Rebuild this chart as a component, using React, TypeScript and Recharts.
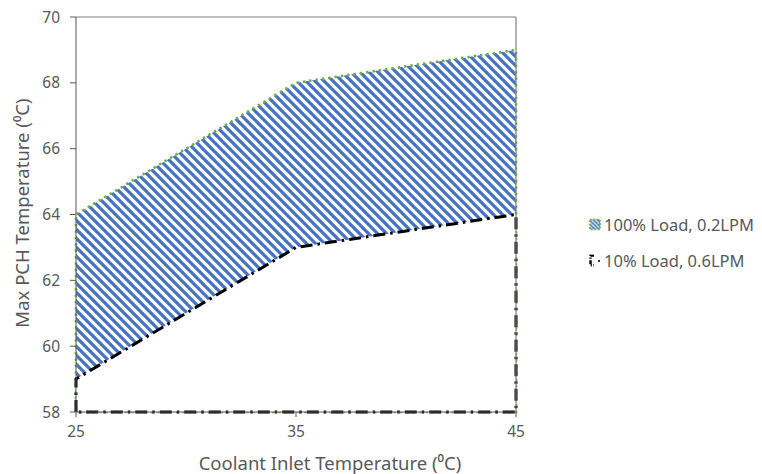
import React from 'react'
import {
  ComposedChart,
  Area,
  XAxis,
  YAxis,
  ReferenceLine,
} from 'recharts'

const inletTemps = [25, 35, 45]
const fullLoadMax = [64, 68, 69]
const lowLoadMax = [59, 63, 64]
const yTicks = [58, 60, 62, 64, 66, 68, 70]
const seriesNames = ['100% Load, 0.2LPM', '10% Load, 0.6LPM']

const Y_MIN = 58
const Y_MAX = 70
const FONT = '"Noto Sans", "Open Sans", sans-serif'
const TEXT = '#595959'
const BLUE = '#4472C4'
const GREEN = '#70AD47'

// closed outline: up the left edge, across the top, down the right edge, back along the floor
function outline(values: number[]) {
  const first = inletTemps[0]
  const last = inletTemps[inletTemps.length - 1]
  return [
    { x: first, y: Y_MIN },
    ...inletTemps.map((x, i) => ({ x, y: values[i] })),
    { x: last, y: Y_MIN },
    { x: first, y: Y_MIN },
  ]
}

const fullLoadData = outline(fullLoadMax)
const lowLoadData = outline(lowLoadMax)

function LegendIcon({ kind }: { kind: number }) {
  if (kind === 0) {
    return (
      <svg width={13} height={12} style={{ marginRight: 3 }}>
        <defs>
          <pattern id="legendStripes" width="4" height="4" patternUnits="userSpaceOnUse">
            <path d="M-1,-1 L5,5 M-1,3 L1,5 M3,-1 L5,1" stroke={BLUE} strokeWidth={1.6} />
          </pattern>
        </defs>
        <rect x={2} y={1} width={10} height={10} fill="url(#legendStripes)" stroke={GREEN} strokeWidth={1.8} strokeDasharray="1.8 1.6" />
      </svg>
    )
  }
  return (
    <svg width={13} height={12} style={{ marginRight: 3 }}>
      <path d="M6,1 L2.5,1 L2.5,11 L6,11" fill="none" stroke="#000" strokeWidth={2.4} strokeDasharray="4 1.5 1.2 1.5" />
      <circle cx={11} cy={6.5} r={1.1} fill="#000" />
    </svg>
  )
}

export default function App() {
  return (
    <div style={{ position: 'absolute', left: 0, top: 0, width: 762, height: 474, background: '#fff', fontFamily: FONT }}>
      <ComposedChart
        width={762}
        height={474}
        margin={{ top: 17, right: 246, bottom: 0, left: 0 }}
      >
        <defs>
          <pattern id="stripes" width="9" height="9" patternUnits="userSpaceOnUse">
            <rect width="9" height="9" fill="#fff" />
            <path d="M-2,-2 L11,11 M-2,7 L2,11 M7,-2 L11,2" stroke={BLUE} strokeWidth={3.2} />
          </pattern>
        </defs>
        <XAxis
          type="number"
          dataKey="x"
          domain={[25, 45]}
          ticks={inletTemps}
          height={62}
          tickSize={5}
          tickMargin={9}
          stroke="#595959"
          tick={{ fill: TEXT, fontSize: 15.5, fontFamily: FONT }}
          allowDuplicatedCategory
        />
        <YAxis
          type="number"
          domain={[Y_MIN, Y_MAX]}
          ticks={yTicks}
          width={76}
          tickSize={6}
          tickMargin={10}
          stroke="#595959"
          tick={{ fill: TEXT, fontSize: 15.5, fontFamily: FONT }}
        />
        <ReferenceLine y={Y_MAX} stroke="#7f7f7f" strokeWidth={1.2} />
        <ReferenceLine x={45} stroke="#7f7f7f" strokeWidth={1.2} />
        <Area
          data={fullLoadData}
          dataKey="y"
          type="linear"
          fill="url(#stripes)"
          fillOpacity={1}
          stroke={GREEN}
          strokeWidth={2.6}
          strokeDasharray="2.4 4"
          isAnimationActive={false}
          dot={false}
          activeDot={false}
        />
        <Area
          data={lowLoadData}
          dataKey="y"
          type="linear"
          fill="#fff"
          fillOpacity={1}
          stroke="#000"
          strokeWidth={3}
          strokeDasharray="12 5 2.5 5"
          isAnimationActive={false}
          dot={false}
          activeDot={false}
        />
      </ComposedChart>

      <div
        style={{
          position: 'absolute',
          left: 21,
          top: 213,
          transform: 'translate(-50%, -50%) rotate(-90deg)',
          whiteSpace: 'nowrap',
          color: TEXT,
          fontSize: 18.5,
        }}
      >
        Max PCH Temperature (⁰C)
      </div>
      <div
        style={{
          position: 'absolute',
          left: 330,
          top: 462,
          transform: 'translate(-50%, -50%)',
          whiteSpace: 'nowrap',
          color: TEXT,
          fontSize: 18.5,
        }}
      >
        Coolant Inlet Temperature (⁰C)
      </div>

      {seriesNames.map((name, i) => (
        <div
          key={name}
          style={{
            position: 'absolute',
            left: 588,
            top: 224 + i * 36,
            transform: 'translateY(-50%)',
            display: 'flex',
            alignItems: 'center',
            whiteSpace: 'nowrap',
            color: TEXT,
            fontSize: 16.5,
          }}
        >
          <LegendIcon kind={i} />
          {name}
        </div>
      ))}
    </div>
  )
}
